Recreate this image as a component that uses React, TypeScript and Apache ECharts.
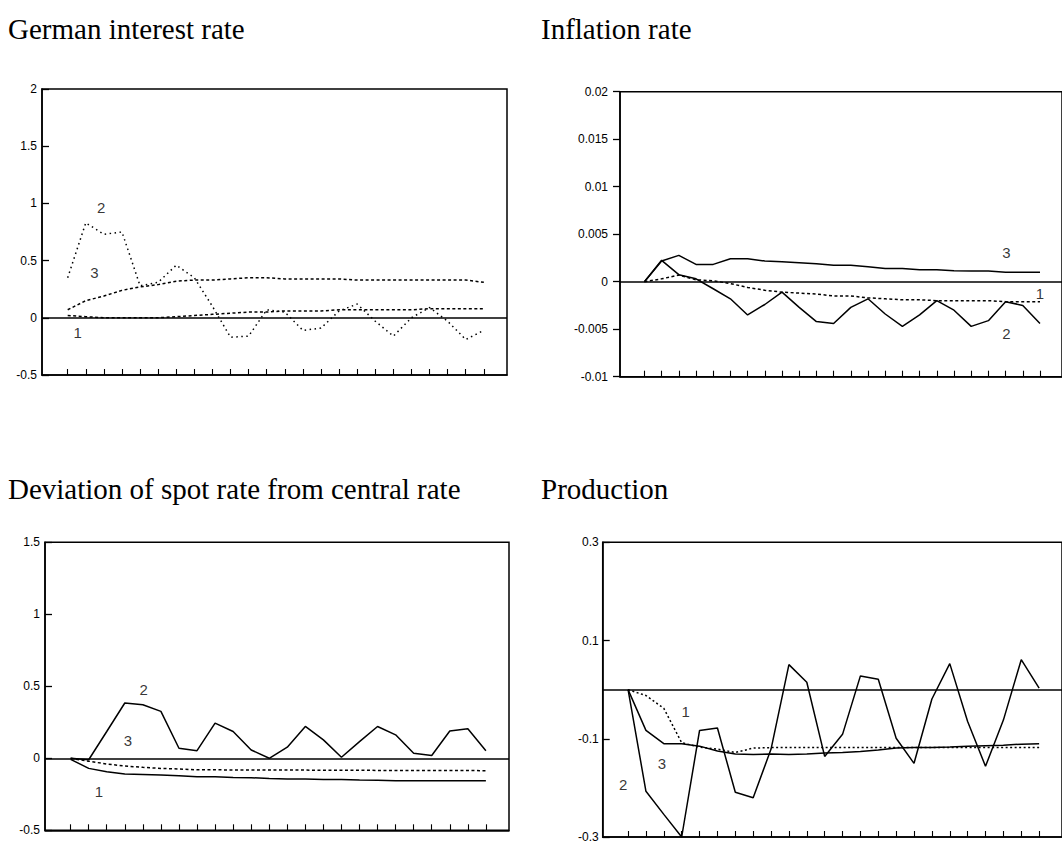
import React, { useEffect, useRef } from "react";
import * as echarts from "echarts";

// ---- data -------------------------------------------------------------
const periods = [1, 2, 3, 4, 5, 6, 7, 8, 9, 10, 11, 12, 13, 14, 15, 16, 17, 18, 19, 20, 21, 22, 23, 24];

const titles = [
  "German interest rate",
  "Inflation rate",
  "Deviation of spot rate from central rate",
  "Production",
];

// German interest rate
const germanS1 = [0.02, 0.01, 0.0, 0.0, 0.0, 0.0, 0.01, 0.02, 0.03, 0.04, 0.05, 0.05, 0.06, 0.06, 0.06, 0.07, 0.07, 0.07, 0.07, 0.07, 0.08, 0.08, 0.08, 0.08];
const germanS2 = [0.35, 0.83, 0.73, 0.75, 0.28, 0.31, 0.46, 0.35, 0.1, -0.17, -0.16, 0.07, 0.05, -0.11, -0.09, 0.06, 0.12, -0.03, -0.16, 0.0, 0.09, -0.03, -0.19, -0.11];
const germanS3 = [0.07, 0.15, 0.19, 0.24, 0.27, 0.29, 0.32, 0.33, 0.33, 0.34, 0.35, 0.35, 0.34, 0.34, 0.34, 0.34, 0.33, 0.33, 0.33, 0.33, 0.33, 0.33, 0.33, 0.31];

// Inflation rate
const inflS1 = [0, 0.0003, 0.0007, 0.0002, 0.0001, -0.0002, -0.0006, -0.0009, -0.0011, -0.0012, -0.0013, -0.0015, -0.0015, -0.0017, -0.0018, -0.0019, -0.0019, -0.002, -0.002, -0.002, -0.002, -0.0021, -0.0021, -0.0021];
const inflS2 = [0, 0.00225, 0.00074, 0.0003, -0.00074, -0.0018, -0.0035, -0.0024, -0.0011, -0.0027, -0.0042, -0.0044, -0.0027, -0.0018, -0.0034, -0.0047, -0.0035, -0.002, -0.003, -0.0047, -0.0041, -0.0021, -0.0025, -0.0044];
const inflS3 = [0, 0.00218, 0.00277, 0.00182, 0.00182, 0.00242, 0.00242, 0.00218, 0.0021, 0.002, 0.0019, 0.00172, 0.00172, 0.00158, 0.0014, 0.0014, 0.00126, 0.00126, 0.00116, 0.00112, 0.00112, 0.001, 0.001, 0.001];

// Deviation of spot rate from central rate
const devS1 = [-0.007, -0.07, -0.093, -0.109, -0.112, -0.116, -0.121, -0.128, -0.128, -0.133, -0.135, -0.14, -0.144, -0.144, -0.147, -0.147, -0.151, -0.153, -0.156, -0.156, -0.156, -0.156, -0.156, -0.156];
const devS2 = [0, -0.01, 0.186, 0.384, 0.372, 0.326, 0.07, 0.053, 0.244, 0.186, 0.058, 0, 0.077, 0.221, 0.128, 0.007, 0.116, 0.221, 0.163, 0.035, 0.019, 0.19, 0.205, 0.053];
const devS3 = [0, -0.02, -0.04, -0.053, -0.063, -0.07, -0.074, -0.08, -0.08, -0.081, -0.081, -0.082, -0.082, -0.082, -0.083, -0.083, -0.083, -0.084, -0.084, -0.084, -0.085, -0.085, -0.085, -0.086];

// Production
const prodS1 = [0, -0.012, -0.038, -0.108, -0.117, -0.121, -0.128, -0.119, -0.118, -0.118, -0.118, -0.118, -0.118, -0.118, -0.118, -0.118, -0.118, -0.118, -0.118, -0.118, -0.118, -0.118, -0.118, -0.118];
const prodS2 = [0, -0.207, -0.254, -0.3, -0.083, -0.078, -0.209, -0.22, -0.121, 0.051, 0.015, -0.136, -0.091, 0.028, 0.021, -0.099, -0.15, -0.019, 0.053, -0.065, -0.156, -0.062, 0.061, 0.003];
const prodS3 = [0, -0.083, -0.11, -0.11, -0.115, -0.125, -0.131, -0.132, -0.131, -0.132, -0.131, -0.129, -0.128, -0.126, -0.123, -0.119, -0.118, -0.118, -0.117, -0.115, -0.114, -0.113, -0.111, -0.11];

// curve labels (period, value, text)
const germanLabels: [number, number, string][] = [[2.85, 0.96, "2"], [2.48, 0.4, "3"], [1.55, -0.13, "1"]];
const inflLabels: [number, number, string][] = [[22.05, 0.0031, "3"], [24.0, -0.00126, "1"], [22.05, -0.0055, "2"]];
const devLabels: [number, number, string][] = [[5.05, 0.48, "2"], [4.17, 0.127, "3"], [2.56, -0.23, "1"]];
const prodLabels: [number, number, string][] = [[4.22, -0.045, "1"], [2.89, -0.15, "3"], [0.72, -0.193, "2"]];

// y-axis ranges
const yRanges = [
  { min: -0.5, max: 2, interval: 0.5 },
  { min: -0.01, max: 0.02, interval: 0.005 },
  { min: -0.5, max: 1.5, interval: 0.5 },
  { min: -0.3, max: 0.3, interval: 0.2 },
];

// ---- layout / style ---------------------------------------------------
const grids = [
  { left: 42, top: 89, width: 465, height: 286 },
  { left: 620, top: 91.7, width: 449, height: 285 },
  { left: 45, top: 542.3, width: 464, height: 288 },
  { left: 602.7, top: 542.3, width: 466.7, height: 299 },
];
const titlePos = [
  { left: 8, top: 14 },
  { left: 541, top: 14 },
  { left: 8, top: 474 },
  { left: 541, top: 474 },
];
const yTickInside = [true, false, true, true];
const yLabelMargin = [5, 12, 5, 4];

const SOLID = "solid";
const DOT: number[] = [1.5, 3.5];
const DASH: number[] = [3, 2.5];

const panelSeries: { data: number[]; style: any }[][] = [
  [
    { data: germanS1, style: DASH },
    { data: germanS2, style: DOT },
    { data: germanS3, style: DASH },
  ],
  [
    { data: inflS1, style: DASH },
    { data: inflS2, style: SOLID },
    { data: inflS3, style: SOLID },
  ],
  [
    { data: devS1, style: SOLID },
    { data: devS2, style: SOLID },
    { data: devS3, style: DASH },
  ],
  [
    { data: prodS1, style: [2, 2.5] },
    { data: prodS2, style: SOLID },
    { data: prodS3, style: SOLID },
  ],
];
const panelLabels = [germanLabels, inflLabels, devLabels, prodLabels];

const fmt = (v: number) => String(Number(v.toFixed(4)));

export default function App() {
  const ref = useRef<HTMLDivElement>(null);

  useEffect(() => {
    if (!ref.current) return;
    const chart = echarts.init(ref.current, undefined, { renderer: "svg" });

    const xAxis = grids.map((_, i) => ({
      type: "value",
      gridIndex: i,
      min: -0.42,
      max: 25.28,
      axisLine: { show: true, onZero: false, lineStyle: { color: "#000", width: 1.5 } },
      axisTick: {
        show: true,
        inside: true,
        length: 6,
        customValues: periods,
        lineStyle: { color: "#000", width: 1.1 },
      },
      axisLabel: { show: false },
      splitLine: { show: false },
    }));

    const yAxis = yRanges.map((r, i) => ({
      type: "value",
      gridIndex: i,
      min: r.min,
      max: r.max,
      interval: r.interval,
      axisLine: { show: true, onZero: false, lineStyle: { color: "#000", width: 1.5 } },
      axisTick: {
        show: true,
        inside: yTickInside[i],
        length: 7,
        lineStyle: { color: "#000", width: 1.3 },
      },
      axisLabel: {
        color: "#000",
        fontSize: 12,
        fontFamily: "Liberation Sans, Arial, sans-serif",
        margin: yLabelMargin[i],
        formatter: fmt,
      },
      splitLine: { show: false },
    }));

    const series: any[] = [];
    panelSeries.forEach((ps, p) => {
      ps.forEach((s, k) => {
        series.push({
          type: "line",
          xAxisIndex: p,
          yAxisIndex: p,
          data: periods.map((x, i) => [x, s.data[i]]),
          showSymbol: false,
          symbol: "none",
          lineStyle: { color: "#000", width: 1.5, type: s.style },
          z: 3,
          markLine:
            k === 0
              ? {
                  silent: true,
                  symbol: ["none", "none"],
                  label: { show: false },
                  lineStyle: { color: "#000", width: 1.6, type: "solid" },
                  data: [{ yAxis: 0 }],
                }
              : undefined,
        });
      });
      series.push({
        type: "scatter",
        xAxisIndex: p,
        yAxisIndex: p,
        data: panelLabels[p].map((l) => [l[0], l[1], l[2]]),
        symbolSize: 1,
        itemStyle: { color: "rgba(0,0,0,0)" },
        label: {
          show: true,
          position: "inside",
          formatter: (q: any) => q.value[2],
          color: "#000",
          textBorderWidth: 0,
          fontSize: 15,
          fontFamily: "Liberation Sans, Arial, sans-serif",
        },
        z: 4,
      });
    });

    chart.setOption({
      animation: false,
      backgroundColor: "#fff",
      title: titles.map((t, i) => ({
        text: t,
        left: titlePos[i].left,
        top: titlePos[i].top,
        padding: 0,
        textStyle: {
          fontFamily: "Liberation Serif, Times New Roman, serif",
          fontSize: 29,
          fontWeight: "normal",
          color: "#000",
        },
      })),
      grid: grids.map((g) => ({
        ...g,
        show: true,
        borderColor: "#000",
        borderWidth: 1.5,
        backgroundColor: "transparent",
        containLabel: false,
      })),
      xAxis,
      yAxis,
      series,
    });

    return () => chart.dispose();
  }, []);

  return (
    <div
      ref={ref}
      style={{ position: "absolute", left: 0, top: 0, width: 1062, height: 843, background: "#fff" }}
    />
  );
}
